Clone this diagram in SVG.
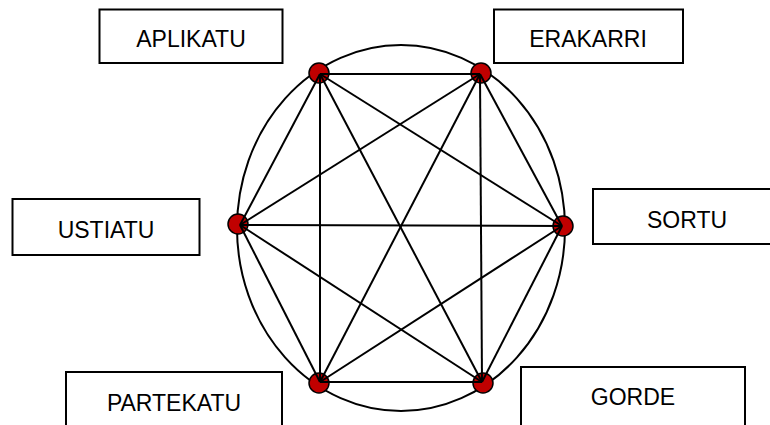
<svg xmlns="http://www.w3.org/2000/svg" width="770" height="425" viewBox="0 0 770 425">
<style>
.box{fill:#fff;stroke:#000;stroke-width:2}
.lbl{font-family:"Liberation Sans",Arial,sans-serif;font-size:23px;fill:#000;text-anchor:middle}
.dot{fill:#C00000;stroke:#000;stroke-width:1.5}
.edge{stroke:#000;stroke-width:2;fill:none}
</style>
<rect width="770" height="425" fill="#fff"/>
<g id="ring"><ellipse cx="401" cy="228" rx="164" ry="183" class="edge"/></g>
<g id="n-aplikatu"><circle cx="319" cy="73" r="10" class="dot"/><rect x="99.5" y="9.5" width="183" height="53.5" class="box"/><text x="191" y="47" class="lbl">APLIKATU</text></g>
<g id="n-erakarri"><circle cx="481" cy="73" r="10" class="dot"/><rect x="494" y="9.5" width="189" height="53.5" class="box"/><text x="588" y="47" class="lbl">ERAKARRI</text></g>
<g id="n-sortu"><circle cx="563" cy="226" r="10" class="dot"/><rect x="593" y="189" width="185" height="55" class="box"/><text x="687" y="228" class="lbl">SORTU</text></g>
<g id="n-gorde"><circle cx="483" cy="383" r="10" class="dot"/><rect x="521" y="367" width="224" height="70" class="box"/><text x="633" y="405" class="lbl">GORDE</text></g>
<g id="n-partekatu"><circle cx="319" cy="383" r="10" class="dot"/><rect x="66" y="372" width="216" height="70" class="box"/><text x="174" y="411" class="lbl">PARTEKATU</text></g>
<g id="n-ustiatu"><circle cx="238" cy="224" r="10" class="dot"/><rect x="12.5" y="199" width="187" height="56" class="box"/><text x="106" y="238" class="lbl">USTIATU</text></g>
<g id="connectors" class="edge">
<line x1="320" y1="74" x2="480" y2="74"/>
<line x1="320" y1="74" x2="562" y2="226"/>
<line x1="320" y1="74" x2="482" y2="382"/>
<line x1="320" y1="74" x2="320" y2="382"/>
<line x1="320" y1="74" x2="240" y2="225"/>
<line x1="480" y1="74" x2="562" y2="226"/>
<line x1="480" y1="74" x2="482" y2="382"/>
<line x1="480" y1="74" x2="320" y2="382"/>
<line x1="480" y1="74" x2="240" y2="225"/>
<line x1="562" y1="226" x2="482" y2="382"/>
<line x1="562" y1="226" x2="320" y2="382"/>
<line x1="562" y1="226" x2="240" y2="225"/>
<line x1="482" y1="382" x2="320" y2="382"/>
<line x1="482" y1="382" x2="240" y2="225"/>
<line x1="320" y1="382" x2="240" y2="225"/>
</g>
</svg>
